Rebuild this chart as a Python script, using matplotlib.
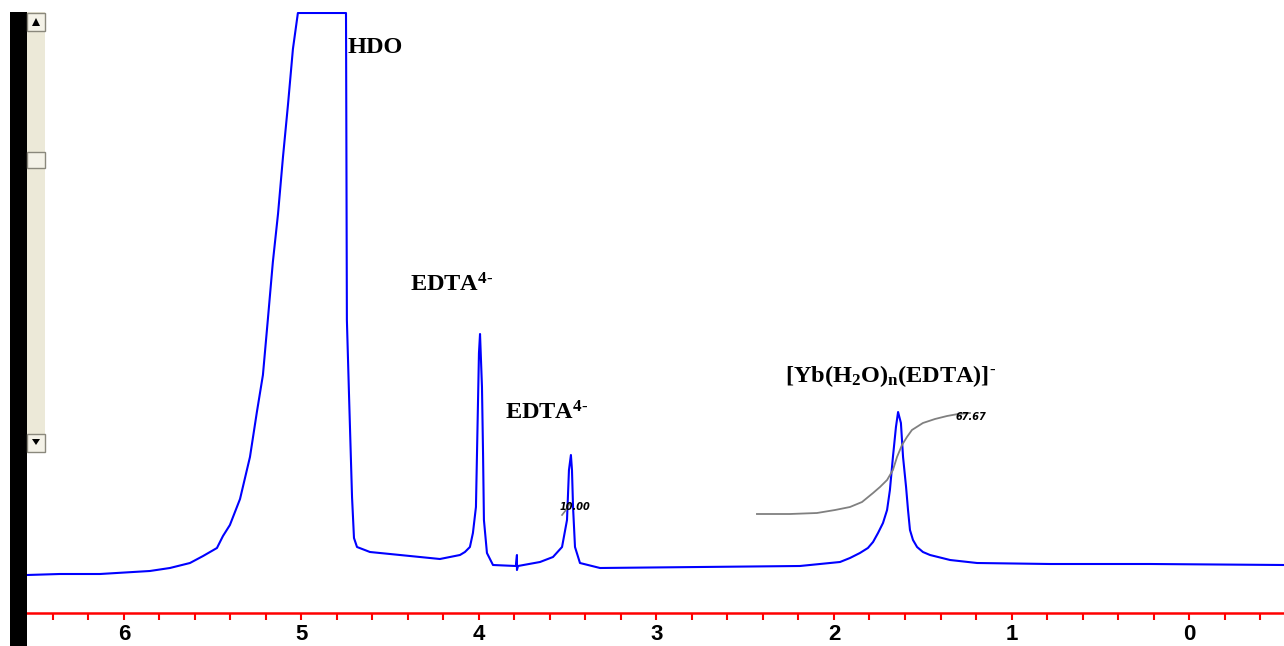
import matplotlib.pyplot as plt
from matplotlib.patches import Rectangle, Polygon

plt.rcParams['mathtext.fontset'] = 'custom'
plt.rcParams['mathtext.rm'] = 'Liberation Serif:bold'
plt.rcParams['mathtext.it'] = 'Liberation Serif:bold'
plt.rcParams['mathtext.bf'] = 'Liberation Serif:bold'

# spectrum: chemical shift (ppm) and intensity (arbitrary units)
shift = [6.546, 6.361, 6.135, 5.854, 5.741, 5.628, 5.554, 5.476, 5.442, 5.403,
         5.346, 5.290, 5.251, 5.217, 5.189, 5.161, 5.132, 5.104, 5.076, 5.048,
         5.020, 4.749, 4.747, 4.744, 4.732, 4.715, 4.704, 4.687, 4.614, 4.445,
         4.220, 4.107, 4.079, 4.051, 4.034, 4.017, 4.011, 4.000, 3.994, 3.983,
         3.977, 3.972, 3.955, 3.921, 3.792, 3.786, 3.786, 3.780, 3.656, 3.583,
         3.532, 3.504, 3.493, 3.482, 3.476, 3.470, 3.459, 3.431, 3.318, 2.755,
         2.192, 1.966, 1.910, 1.854, 1.809, 1.780, 1.752, 1.724, 1.701, 1.685,
         1.668, 1.651, 1.639, 1.623, 1.611, 1.594, 1.583, 1.572, 1.555, 1.532,
         1.499, 1.459, 1.346, 1.194, 0.783, 0.220, -0.535]
intensity = [38, 39, 39, 42, 45, 50, 57, 65, 77, 88,
             114, 156, 201, 238, 294, 351, 399, 456, 508, 564,
             600, 600, 482, 293, 218, 116, 75, 66, 61, 58,
             54, 58, 61, 66, 80, 106, 160, 260, 279, 226,
             160, 93, 60, 48, 47, 58, 43, 47, 51, 56,
             66, 93, 143, 158, 143, 106, 66, 50, 45, 46,
             47, 51, 55, 60, 65, 71, 80, 90, 103, 123,
             156, 186, 201, 190, 156, 126, 103, 83, 73, 66,
             61, 58, 53, 50, 49, 49, 48]

# integral traces
int1_shift = [3.532, 3.510, 3.487]
int1_value = [98, 103, 110]
int2_shift = [2.434, 2.248, 2.096, 1.994, 1.910, 1.842, 1.780, 1.741, 1.701,
              1.668, 1.645, 1.617, 1.589, 1.561, 1.499, 1.431, 1.363, 1.301, 1.234]
int2_value = [99, 99, 100, 103, 106, 111, 120, 126, 133,
              143, 156, 168, 176, 183, 190, 194, 197, 199, 200]

W, H = 1284, 646
fig = plt.figure(figsize=(W / 100, H / 100), dpi=100)
fig.patch.set_facecolor('white')

ax = fig.add_axes([27 / W, 33 / H, 1257 / W, 601 / H])
ax.plot(shift, intensity, color='#0000FF', lw=1.5)
ax.plot(int1_shift, int1_value, color='#808080', lw=1.2)
ax.plot(int2_shift, int2_value, color='#808080', lw=1.3)
ax.text(3.46, 106, '10.00', fontsize=7, fontweight='bold', style='italic',
        ha='center', va='center')
ax.text(1.23, 196, '67.67', fontsize=7, fontweight='bold', style='italic',
        ha='center', va='center')

# peak labels
ax.text(4.738, 560, 'HDO', family='Liberation Serif', fontweight='bold', fontsize=17.5)
ax.text(4.389, 322, r'$\mathrm{EDTA^{4\text{-}}}$', fontsize=17.5)
ax.text(3.854, 193, r'$\mathrm{EDTA^{4\text{-}}}$', fontsize=17.5)
ax.text(2.276, 231, r'$\mathrm{[Yb(H_2O)_n(EDTA)]^{\text{-}}}$', fontsize=17.5)

ax.set_xlim(6.546, -0.535)
ax.set_ylim(0, 601)
for s in ['top', 'left', 'right']:
    ax.spines[s].set_visible(False)
ax.spines['bottom'].set_color('red')
ax.spines['bottom'].set_linewidth(1.8)
ax.set_yticks([])
ax.set_xticks([i * 0.2 for i in range(-2, 33)], minor=True)
ax.set_xticks([6, 5, 4, 3, 2, 1, 0])
ax.set_xticklabels(['6', '5', '4', '3', '2', '1', '0'], family='Liberation Sans',
                   fontweight='bold', fontsize=16)
ax.tick_params(axis='x', which='both', direction='out', length=5, width=1.5,
               color='red', pad=3)

# window chrome on the left: black frame and scrollbar
def fig_rect(x0, y0, x1, y1, **kw):
    fig.add_artist(Rectangle((x0 / W, 1 - y1 / H), (x1 - x0) / W, (y1 - y0) / H,
                             transform=fig.transFigure, **kw))

fig_rect(10, 12, 27, 646, facecolor='black', edgecolor='none')
fig_rect(27, 12, 45, 452, facecolor='#ECE9D8', edgecolor='none')
for y0, y1 in [(13, 31), (152, 168), (434, 452)]:
    fig_rect(27, y0, 45, y1, facecolor='#F4F2E8', edgecolor='#8A887C', lw=1)
for tip, base in [(18, 26), (445, 439)]:
    pts = [(32 / W, 1 - base / H), (40 / W, 1 - base / H), (36 / W, 1 - tip / H)]
    fig.add_artist(Polygon(pts, closed=True, transform=fig.transFigure,
                           facecolor='black', edgecolor='none'))

plt.savefig('out.png', dpi=100)
